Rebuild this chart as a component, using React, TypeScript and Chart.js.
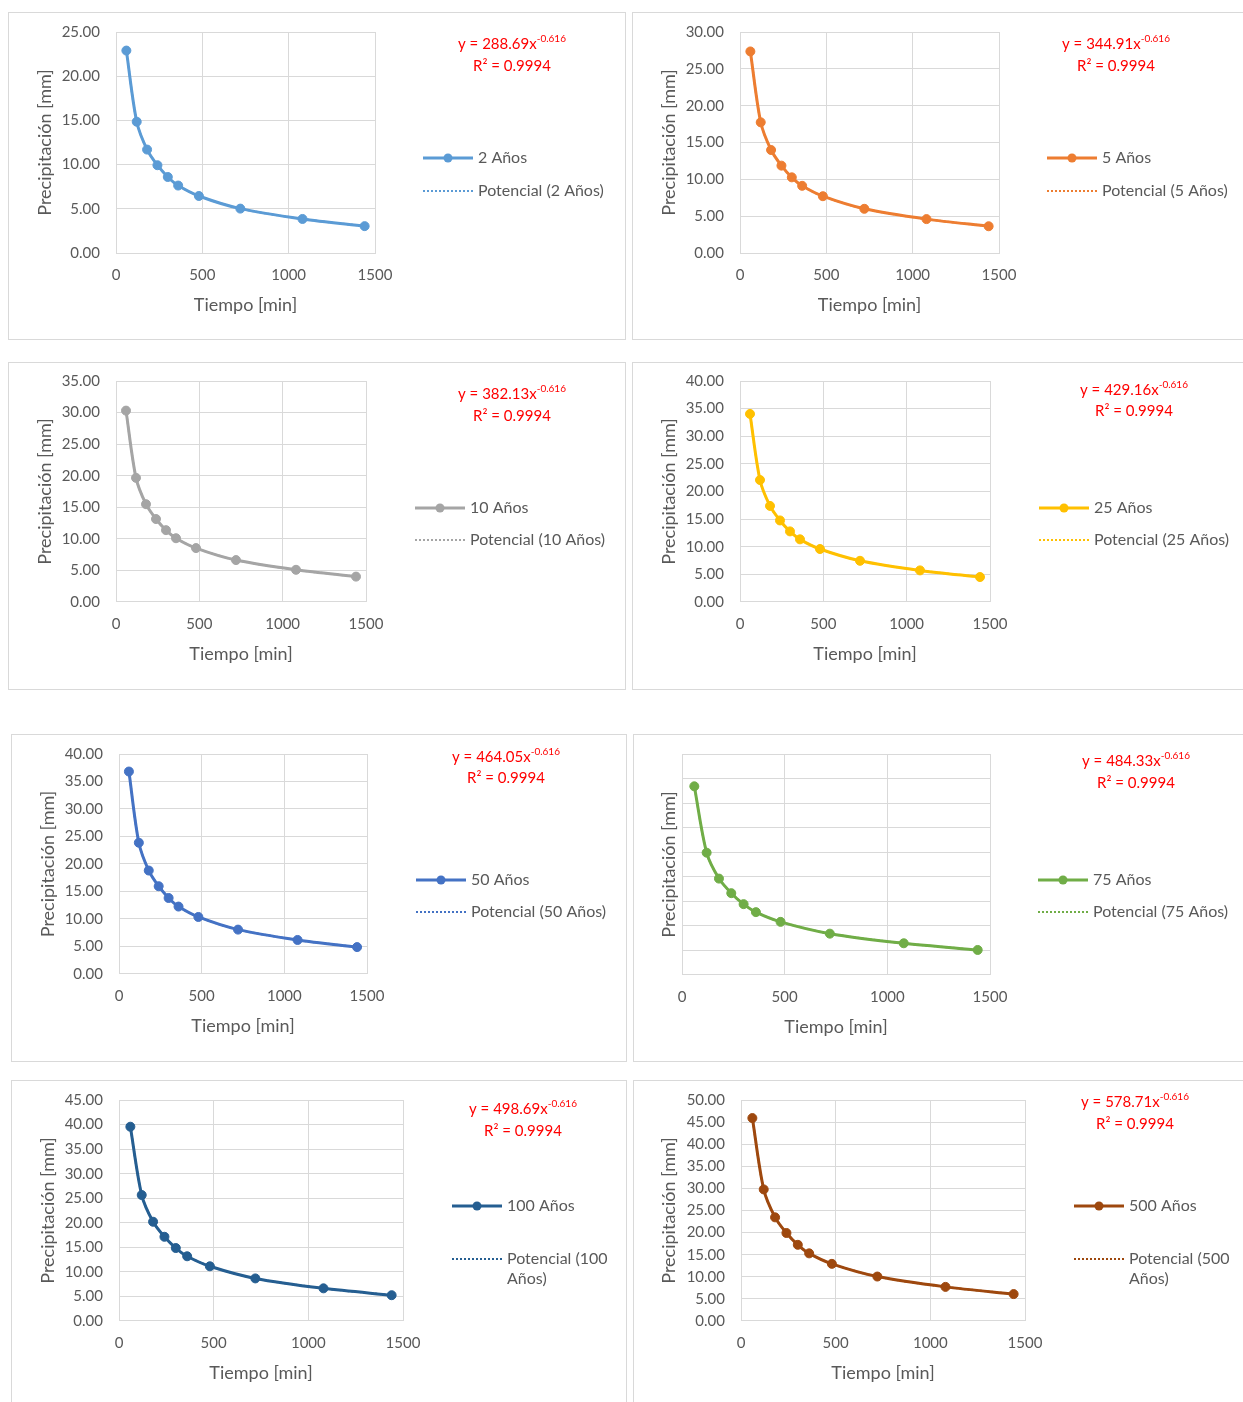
import React, { useEffect, useRef } from "react";
import { Chart, registerables } from "chart.js";

Chart.register(...registerables);

// ---------- data ----------
const tiempos = [60, 120, 180, 240, 300, 360, 480, 720, 1080, 1440];

const serie2 = [22.9, 14.85, 11.7, 9.93, 8.6, 7.63, 6.45, 5.02, 3.85, 3.04];
const serie5 = [27.36, 17.74, 13.98, 11.86, 10.27, 9.12, 7.71, 6.0, 4.6, 3.63];
const serie10 = [30.31, 19.66, 15.49, 13.14, 11.38, 10.1, 8.54, 6.64, 5.1, 4.02];
const serie25 = [34.04, 22.08, 17.39, 14.76, 12.78, 11.34, 9.59, 7.46, 5.72, 4.52];
const serie50 = [36.81, 23.87, 18.81, 15.96, 13.82, 12.26, 10.37, 8.07, 6.19, 4.89];
const serie75 = [38.42, 24.91, 19.63, 16.66, 14.43, 12.8, 10.82, 8.42, 6.46, 5.1];
const serie100 = [39.56, 25.65, 20.21, 17.15, 14.86, 13.18, 11.14, 8.67, 6.65, 5.25];
const serie500 = [45.91, 29.77, 23.45, 19.91, 17.24, 15.3, 12.93, 10.06, 7.72, 6.09];

const series = [serie2, serie5, serie10, serie25, serie50, serie75, serie100, serie500];
const periodos = ["2 Años", "5 Años", "10 Años", "25 Años", "50 Años", "75 Años", "100 Años", "500 Años"];
const tendencias = [
  ["Potencial (2 Años)"],
  ["Potencial (5 Años)"],
  ["Potencial (10 Años)"],
  ["Potencial (25 Años)"],
  ["Potencial (50 Años)"],
  ["Potencial (75 Años)"],
  ["Potencial (100", "Años)"],
  ["Potencial (500", "Años)"],
];
const coeficientes = ["288.69", "344.91", "382.13", "429.16", "464.05", "484.33", "498.69", "578.71"];
const exponente = "-0.616";
const r2 = "0.9994";
const yMaximos = [25, 30, 35, 40, 40, 45, 45, 50];
const xMax = 1500;
const xStep = 500;
const yStep = 5;
const yTitulo = "Precipitación [mm]";
const xTitulo = "Tiempo [min]";

// ---------- styles / layout ----------
const colores = ["#5B9BD5", "#ED7D31", "#A5A5A5", "#FFC000", "#4472C4", "#70AD47", "#255E91", "#9E480E"];
const cajas = [
  [8, 12, 626, 340], [632, 12, 1246, 340],
  [8, 362, 626, 690], [632, 362, 1246, 690],
  [11, 734, 627, 1062], [633, 734, 1246, 1062],
  [11, 1080, 627, 1410], [633, 1080, 1246, 1410],
];
const areas = [
  [116, 32, 375, 253], [740, 32, 999, 253],
  [116, 381, 366, 602], [740, 381, 990, 602],
  [119, 754, 367, 974], [682, 754, 990, 975],
  [119, 1100, 403, 1321], [741, 1100, 1025, 1321],
];
const tituloYX = [45, 669, 45, 669, 48, 669, 48, 669];
const leyendaX = [423, 1047, 415, 1039, 416, 1038, 452, 1074];
const leyendaY = [[158, 191], [158, 191], [508, 540], [508, 540], [880, 912], [880, 912], [1206, 1259], [1206, 1259]];
const ecuacion = [[512, 44, 66], [1116, 44, 66], [512, 394, 416], [1134, 390, 411], [506, 757, 778], [1136, 761, 783], [523, 1109, 1131], [1135, 1102, 1124]];
const mostrarY = [true, true, true, true, true, false, true, true];

const FONT = "Lato, 'Open Sans', sans-serif";
const GRAY = "#595959";
const GRID = "#d9d9d9";
const TICK_SIZE = 15;
const XTITLE_SIZE = 18;
const YTITLE_SIZE = 18;
const LEG_SIZE = 16;
const EQ_SIZE = 15;

function Panel({ idx }: { idx: number }) {
  const ref = useRef<HTMLCanvasElement | null>(null);
  const box = cajas[idx];
  const ox = box[0] + 1;
  const oy = box[1] + 1;
  const cw = box[2] - box[0] - 2;
  const ch = box[3] - box[1] - 2;

  useEffect(() => {
    const canvas = ref.current;
    if (!canvas) return;
    const [pl, pt, pr, pb] = areas[idx];
    const yHalf = (YTITLE_SIZE * 1.2) / 2;
    const xHalf = (XTITLE_SIZE * 1.2) / 2;
    const padLeft = tituloYX[idx] - yHalf - ox;
    const yW = pl - ox - padLeft;
    const padTop = pt - oy;
    const padRight = ox + cw - pr;
    const xH = 52 + xHalf;
    const padBottom = oy + ch - (pb + xH);
    const color = colores[idx];
    const vals = series[idx];
    const pts = tiempos.map((t, i) => ({ x: t, y: vals[i] }));

    const overlay = {
      id: "overlay" + idx,
      afterDraw(chart: any) {
        const ctx = chart.ctx as CanvasRenderingContext2D;
        ctx.save();
        const lx = leyendaX[idx] - ox;
        const [ly1, ly2] = leyendaY[idx].map((v) => v - oy);
        // series legend
        ctx.strokeStyle = color;
        ctx.lineWidth = 3;
        ctx.beginPath();
        ctx.moveTo(lx, ly1);
        ctx.lineTo(lx + 50, ly1);
        ctx.stroke();
        ctx.fillStyle = color;
        ctx.beginPath();
        ctx.arc(lx + 25, ly1, 4.5, 0, Math.PI * 2);
        ctx.fill();
        // trend legend
        ctx.lineWidth = 2;
        ctx.setLineDash([2, 2]);
        ctx.beginPath();
        ctx.moveTo(lx, ly2);
        ctx.lineTo(lx + 50, ly2);
        ctx.stroke();
        ctx.setLineDash([]);
        ctx.fillStyle = GRAY;
        ctx.font = LEG_SIZE + "px " + FONT;
        ctx.textBaseline = "middle";
        ctx.textAlign = "left";
        ctx.fillText(periodos[idx], lx + 55, ly1);
        tendencias[idx].forEach((t, i) => ctx.fillText(t, lx + 55, ly2 + i * 20));
        // equation
        const [ecx, ey1, ey2] = ecuacion[idx];
        const cx = ecx - ox;
        const main = "y = " + coeficientes[idx] + "x";
        ctx.fillStyle = "#FF0000";
        ctx.font = EQ_SIZE + "px " + FONT;
        const w1 = ctx.measureText(main).width;
        ctx.font = "10px " + FONT;
        const w2 = ctx.measureText(exponente).width;
        const sx = cx - (w1 + w2) / 2;
        ctx.font = EQ_SIZE + "px " + FONT;
        ctx.fillText(main, sx, ey1 - oy);
        ctx.font = "10px " + FONT;
        ctx.fillText(exponente, sx + w1, ey1 - oy - 5);
        ctx.font = EQ_SIZE + "px " + FONT;
        ctx.textAlign = "center";
        ctx.fillText("R² = " + r2, cx, ey2 - oy);
        ctx.restore();
      },
    };

    const chart = new Chart(canvas, {
      type: "line",
      data: {
        datasets: [
          {
            label: periodos[idx],
            data: pts,
            borderColor: color,
            backgroundColor: color,
            borderWidth: 3,
            pointRadius: 4.5,
            pointBorderWidth: 1,
            pointBorderColor: color,
            pointBackgroundColor: color,
            tension: 0.3,
            order: 0,
          },
          {
            label: tendencias[idx].join(" "),
            data: pts,
            borderColor: color,
            borderWidth: 2,
            borderDash: [2, 2],
            pointRadius: 0,
            tension: 0.3,
            order: 1,
          },
        ],
      },
      options: {
        responsive: false,
        animation: false,
        events: [],
        layout: { padding: { left: padLeft, top: padTop, right: padRight, bottom: padBottom } },
        plugins: { legend: { display: false }, tooltip: { enabled: false } },
        scales: {
          x: {
            type: "linear",
            min: 0,
            max: xMax,
            ticks: {
              stepSize: xStep,
              padding: 13,
              color: GRAY,
              font: { family: FONT, size: TICK_SIZE },
              callback: (v: any) => String(v),
            },
            grid: { color: GRID, drawTicks: false },
            border: { color: GRID },
            title: { display: true, text: xTitulo, color: GRAY, font: { family: FONT, size: XTITLE_SIZE }, padding: 0 },
            afterFit: (s: any) => {
              s.height = xH;
            },
          },
          y: {
            type: "linear",
            min: 0,
            max: yMaximos[idx],
            ticks: {
              stepSize: yStep,
              display: mostrarY[idx],
              padding: 0,
              color: GRAY,
              font: { family: FONT, size: TICK_SIZE },
              callback: (v: any) => Number(v).toFixed(2),
            },
            grid: { color: GRID, drawTicks: true, tickLength: 16, tickColor: "rgba(0,0,0,0)" },
            border: { color: GRID },
            title: { display: true, text: yTitulo, color: GRAY, font: { family: FONT, size: YTITLE_SIZE }, padding: 0 },
            afterFit: (s: any) => {
              s.width = yW;
            },
          },
        },
      },
      plugins: [overlay],
    } as any);
    return () => chart.destroy();
  }, [idx]);

  return (
    <>
      <div
        style={{
          position: "absolute",
          left: box[0],
          top: box[1],
          width: box[2] - box[0],
          height: box[3] - box[1],
          border: "1px solid #d9d9d9",
          boxSizing: "border-box",
        }}
      />
      <canvas
        ref={ref}
        width={cw}
        height={ch}
        style={{ position: "absolute", left: ox, top: oy, width: cw, height: ch }}
      />
    </>
  );
}

export default function App() {
  return (
    <div
      style={{
        position: "absolute",
        left: 0,
        top: 0,
        width: 1243,
        height: 1402,
        overflow: "hidden",
        background: "#ffffff",
      }}
    >
      {series.map((_, i) => (
        <Panel key={i} idx={i} />
      ))}
    </div>
  );
}
